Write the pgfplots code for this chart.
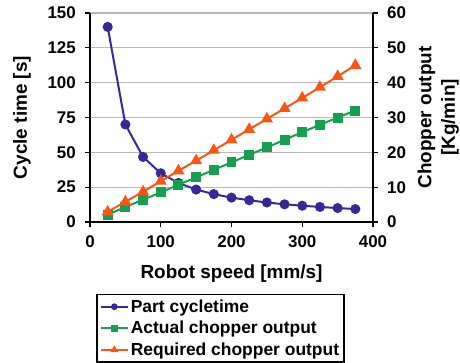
\documentclass[border=0pt]{standalone}
\usepackage{pgfplots}
\pgfplotsset{compat=1.18}
\usepackage{fontspec}
\setmainfont{Liberation Sans}
\definecolor{cblue}{RGB}{55,40,150}
\definecolor{cgreen}{RGB}{20,160,80}
\definecolor{corange}{RGB}{250,85,20}
\pgfplotstableread{
x cyc act req
25 140 2.1 2.9
50 70 4.3 5.8
75 46.7 6.4 8.7
100 35 8.5 11.7
125 28 10.7 14.7
150 23.3 12.8 17.6
175 20 15 20.6
200 17.5 17.1 23.6
225 15.6 19.3 26.6
250 14 21.4 29.6
275 12.7 23.6 32.6
300 11.7 25.8 35.6
325 10.8 27.9 38.7
350 10 30 41.8
375 9.3 32 45
}\data
\begin{document}
\begin{tikzpicture}
\useasboundingbox (-90bp,-141bp) rectangle (370bp,222bp);
\pgfplotsset{
  every axis/.style={scale only axis, width=283bp, height=209bp,
    xmin=0, xmax=400, axis line style={line width=1.5pt, black},
    major tick length=5bp, every tick/.style={line width=1.3pt, black},
    tick align=outside,
    tick label style={font=\bfseries\fontsize{17}{19}\selectfont},
  },
}
\begin{axis}[
  axis x line*=bottom, axis y line*=left,
  ymin=0, ymax=150, ytick={0,25,...,150},
  yticklabels={0,25,50,75,100,125,150},
  xtick={0,100,...,400},
  xticklabels={0,100,200,300,400},
  ymajorgrids, grid style={line width=1.3pt, gray!55},
  xlabel={Robot speed [mm/s]}, ylabel={Cycle time [s]},
  yticklabel style={anchor=east, inner sep=0pt, xshift=-9bp},
  xticklabel style={anchor=center, inner sep=0pt, yshift=-15bp},
  every axis x label/.style={at={(rel axis cs:0.5,0)}, anchor=center, yshift=-52bp, font=\bfseries\fontsize{19}{23}\selectfont},
  every axis y label/.style={at={(rel axis cs:0,0.5)}, xshift=-68bp, anchor=center, rotate=90, font=\bfseries\fontsize{19}{23}\selectfont},
]
\addplot[cblue, line width=2pt, mark=*, mark size=4bp] table[x=x,y=cyc]{\data};
\end{axis}
\begin{axis}[
  axis x line=none, axis y line*=right,
  ymin=0, ymax=60, ytick={0,10,...,60},
  yticklabels={0,10,20,30,40,50,60},
  yticklabel style={anchor=west, inner sep=0pt, xshift=9bp},
  ylabel={\begin{tabular}{@{}c@{}}Chopper output\\{}[Kg/min]\end{tabular}},
  every axis y label/.style={at={(rel axis cs:1,0.5)}, xshift=65.5bp, anchor=center, rotate=90, font=\bfseries\fontsize{19}{23.5}\selectfont},
  legend style={at={(0.461,-0.3445)}, anchor=north, draw=black, line width=1.3pt,
    font=\bfseries\fontsize{17.5}{19}\selectfont, cells={anchor=west},
    row sep=3.5bp, inner xsep=3bp, inner ysep=3bp},
  legend image code/.code={\draw[mark repeat=2,mark phase=2,#1] plot coordinates {(0bp,0bp) (13.5bp,0bp) (27bp,0bp)};},
]
\addlegendimage{cblue, line width=2pt, mark=*, mark size=2.3bp}
\addlegendentry{Part cycletime}
\addlegendimage{cgreen, line width=2pt, mark=square*, mark size=2.2bp}
\addlegendentry{Actual chopper output}
\addlegendimage{corange, line width=2pt, mark=triangle*, mark size=2.6bp}
\addlegendentry{Required chopper output}
\addplot[cgreen, line width=2pt, mark=square*, mark size=4bp, forget plot] table[x=x,y=act]{\data};
\addplot[corange, line width=2pt, mark=triangle*, mark size=5bp, forget plot] table[x=x,y=req]{\data};
\end{axis}
\end{tikzpicture}
\end{document}
